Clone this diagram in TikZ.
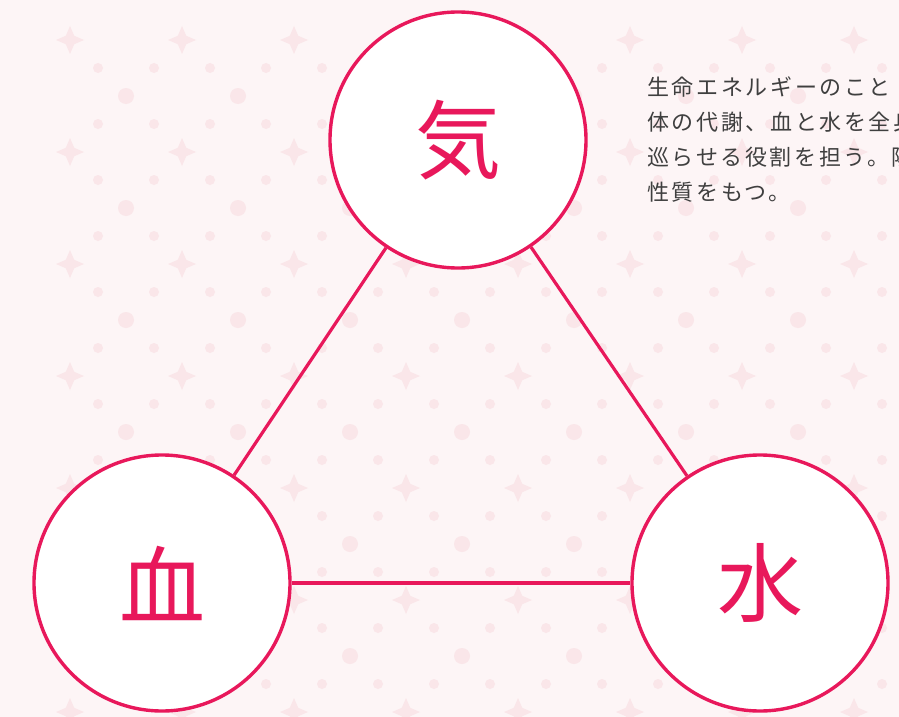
\documentclass[tikz,border=0pt]{standalone}
\usepackage{fontspec}
\setmainfont{Noto Sans CJK JP}
\newfontfamily\cjkbody[LetterSpace=12]{Noto Sans CJK JP}
\newfontfamily\cjkbig{Noto Sans CJK JP}
\definecolor{crim}{HTML}{E8185B}
\definecolor{bgpink}{HTML}{FDF5F6}
\definecolor{motif}{HTML}{FAE6E9}
\definecolor{txtgray}{HTML}{3F3F3F}
\tikzset{
  elem/.style={circle, draw=crim, line width=3.4pt, fill=white, minimum size=256pt, inner sep=0pt, text=crim, font=\cjkbig\fontsize{86}{86}\selectfont},
  link/.style={draw=crim, line width=3.2pt},
  desc/.style={anchor=west, inner sep=0pt, text=txtgray, font=\cjkbody\fontsize{22}{22}\selectfont}
}
\begin{document}
\begin{tikzpicture}[x=1pt,y=-1pt]
\useasboundingbox (0,0) rectangle (899,717);
\clip (0,0) rectangle (899,717);
\fill[bgpink] (0,0) rectangle (899,717);
% faint background motif
\foreach \i in {0,...,8} {
  \foreach \j in {0,...,7} {
    \pgfmathsetmacro{\cx}{70+\i*112}
    \pgfmathsetmacro{\cy}{40+\j*112}
    \fill[motif] (\cx,\cy-14) -- (\cx+6,\cy) -- (\cx,\cy+14) -- (\cx-6,\cy) -- cycle;
    \fill[motif] (\cx-14,\cy) -- (\cx,\cy+6) -- (\cx+14,\cy) -- (\cx,\cy-6) -- cycle;
    \fill[motif] (\cx+56,\cy+56) circle (8);
    \fill[motif] (\cx+28,\cy+28) circle (5);
    \fill[motif] (\cx+84,\cy+28) circle (5);
    \fill[motif] (\cx+28,\cy+84) circle (5);
    \fill[motif] (\cx+84,\cy+84) circle (5);
  }
}
\node[elem] (qi) at (458,140) {気};
\node[elem] (xue) at (162,583) {血};
\node[elem] (sui) at (760,583) {水};
\draw[link] (qi) -- (xue);
\draw[link] (xue) -- (sui);
\draw[link] (qi) -- (sui);
\node[desc] (d1) at (647,87) {生命エネルギーのこと};
\node[desc] (d2) at (647,122) {体の代謝、血と水を全身};
\node[desc] (d3) at (647,157) {巡らせる役割を担う。陽};
\node[desc] (d4) at (647,192) {性質をもつ。};
\end{tikzpicture}
\end{document}
